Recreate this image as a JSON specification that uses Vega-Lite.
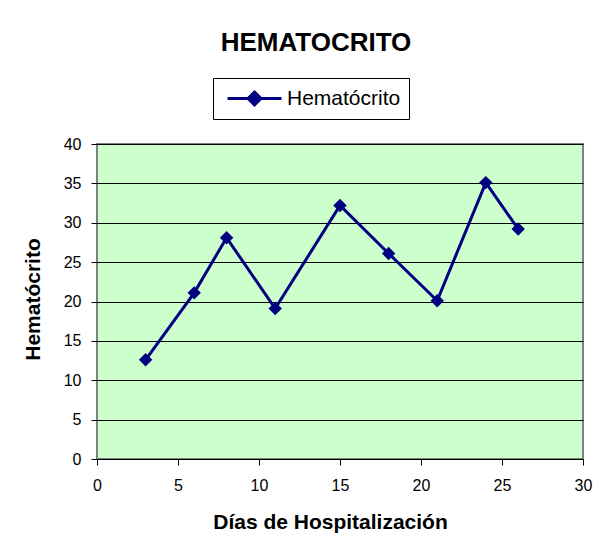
{
  "$schema": "https://vega.github.io/schema/vega-lite/v6.json",
  "width": 486,
  "height": 315,
  "autosize": {"type": "none"},
  "padding": {"left": 97, "top": 144, "right": 17, "bottom": 78},
  "background": "white",
  "title": {
    "text": "HEMATOCRITO",
    "font": "Liberation Sans",
    "fontSize": 26,
    "fontWeight": "bold",
    "color": "black",
    "anchor": "middle",
    "baseline": "alphabetic",
    "offset": 26,
    "dy": 25,
    "dx": -24
  },
  "config": {
    "view": {"fill": "#CCFFCC", "stroke": "#808080", "strokeWidth": 2},
    "font": "Liberation Sans"
  },
  "data": {
    "values": [
      {"dia": 3, "hto": 12.6, "serie": "Hematócrito"},
      {"dia": 6, "hto": 21.1, "serie": "Hematócrito"},
      {"dia": 8, "hto": 28.1, "serie": "Hematócrito"},
      {"dia": 11, "hto": 19.1, "serie": "Hematócrito"},
      {"dia": 15, "hto": 32.2, "serie": "Hematócrito"},
      {"dia": 18, "hto": 26.1, "serie": "Hematócrito"},
      {"dia": 21, "hto": 20.1, "serie": "Hematócrito"},
      {"dia": 24, "hto": 35.1, "serie": "Hematócrito"},
      {"dia": 26, "hto": 29.2, "serie": "Hematócrito"}
    ]
  },
  "mark": {
    "type": "line",
    "strokeWidth": 3,
    "point": {"shape": "diamond", "size": 180, "filled": true, "color": "#000080", "opacity": 1}
  },
  "encoding": {
    "x": {
      "field": "dia",
      "type": "quantitative",
      "scale": {"domain": [0, 30], "nice": false},
      "axis": {
        "title": "Días de Hospitalización",
        "values": [0, 5, 10, 15, 20, 25, 30],
        "grid": false,
        "domain": false,
        "tickColor": "black",
        "tickSize": 6,
        "labelPadding": 12,
        "labelFontSize": 16,
        "labelColor": "black",
        "labelFlush": false,
        "titleFontSize": 21,
        "titleFontWeight": "bold",
        "titleColor": "black",
        "titleX": 233,
        "titleY": 69,
        "titleBaseline": "alphabetic",
        "titleAnchor": null
      }
    },
    "y": {
      "field": "hto",
      "type": "quantitative",
      "scale": {"domain": [0, 40], "nice": false},
      "axis": {
        "title": "Hematócrito",
        "values": [0, 5, 10, 15, 20, 25, 30, 35, 40],
        "grid": true,
        "gridColor": "black",
        "gridWidth": 1,
        "gridOpacity": 1,
        "domain": false,
        "tickColor": "black",
        "tickSize": 6,
        "labelPadding": 10,
        "labelFontSize": 16,
        "labelColor": "black",
        "labelFlush": false,
        "titleFontSize": 21,
        "titleFontWeight": "bold",
        "titleColor": "black",
        "titleX": -64,
        "titleY": 155,
        "titleBaseline": "middle",
        "titleAngle": -90
      }
    },
    "color": {
      "field": "serie",
      "type": "nominal",
      "scale": {"range": ["#000080"]},
      "legend": {
        "title": null,
        "orient": "none",
        "legendX": 116,
        "legendY": -66,
        "strokeColor": "black",
        "fillColor": "white",
        "padding": 8,
        "symbolType": "M-2.5,0H2.5M0,-0.6L0.6,0L0,0.6L-0.6,0Z",
        "symbolSize": 466,
        "symbolStrokeWidth": 3,
        "symbolStrokeColor": "#000080",
        "symbolFillColor": "#000080",
        "symbolOffset": 21,
        "labelOffset": 20,
        "labelFontSize": 21,
        "labelColor": "black",
        "labelLimit": 300
      }
    }
  }
}
